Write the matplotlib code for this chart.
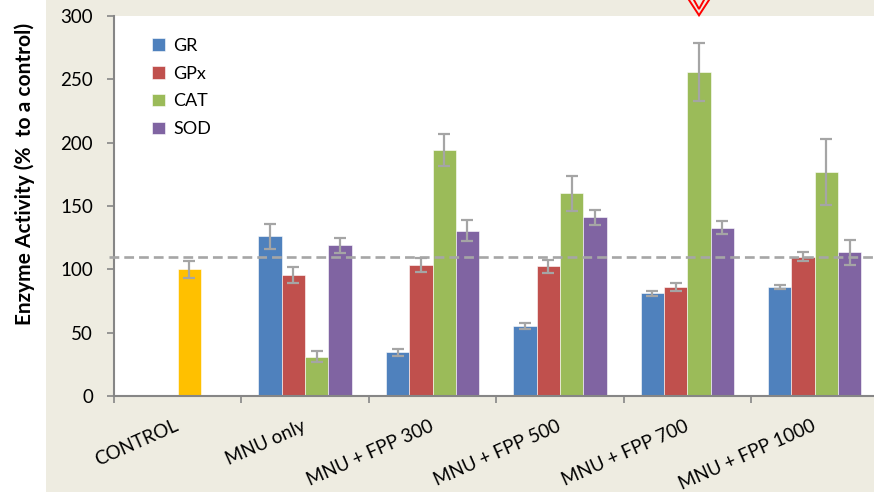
import matplotlib
matplotlib.use("Agg")
import matplotlib.pyplot as plt
import numpy as np
from matplotlib.patches import Rectangle
from matplotlib.lines import Line2D

plt.rcParams["font.family"] = ["Lato", "DejaVu Sans"]

groups = ["CONTROL", "MNU only", "MNU + FPP 300", "MNU + FPP 500",
          "MNU + FPP 700", "MNU + FPP 1000"]
enzymes = ["GR", "GPx", "CAT", "SOD"]

control_value = 100
control_err = 6.5

# treated groups (MNU only .. MNU + FPP 1000)
gr = [126, 34.5, 55.5, 81, 86]
gr_err = [10, 3, 2.5, 2, 1.5]
gpx = [95.5, 103.5, 102.5, 86, 110]
gpx_err = [6, 5.5, 5, 3, 3.5]
cat = [31, 194, 160, 256, 177]
cat_err = [4.5, 12.5, 14, 23, 26]
sod = [119, 130.5, 141, 133, 113.5]
sod_err = [6, 8.5, 6, 5.5, 10]

reference_level = 110

colors = ["#4F81BD", "#C0504D", "#9BBB59", "#8064A2"]
control_color = "#FFC000"
err_color = "#A5A5A5"
beige = "#EEECE1"

W, H = 874, 492
fig = plt.figure(figsize=(W / 100, H / 100), dpi=100, facecolor="white")
fig.patches.append(Rectangle((46 / W, 0), 1, 1, transform=fig.transFigure,
                             facecolor=beige, edgecolor="none", zorder=-5))

ax = fig.add_axes([114 / W, 1 - 396 / H, 1 - 114 / W, (396 - 16) / H])
ax.set_facecolor("white")

bw = 0.183
x = np.arange(len(groups))
err_kw = dict(ecolor=err_color, elinewidth=1.6, capsize=4, capthick=1.6)

series = [(gr, gr_err), (gpx, gpx_err), (cat, cat_err), (sod, sod_err)]
for i, ((vals, errs), name) in enumerate(zip(series, enzymes)):
    pos = x[1:] + (i - 1.5) * bw
    ax.bar(pos, vals, bw, yerr=errs, color=colors[i], label=name,
           edgecolor="white", linewidth=0.4, error_kw=err_kw, zorder=2)

# control sits in the CAT slot of its group
ax.bar(x[0] + 0.5 * bw, control_value, bw, yerr=control_err,
       color=control_color, edgecolor="white", linewidth=0.4,
       error_kw=err_kw, zorder=2)

ax.plot([-0.54, 5.5], [reference_level] * 2, color="#A6A6A6", lw=1.9,
        ls=(0, (3.7, 1.9)), zorder=3, clip_on=False)

ax.set_xlim(-0.5, 5.465)
ax.set_ylim(0, 300)
ax.set_yticks(np.arange(0, 301, 50))
ax.set_xticks(x)
ax.set_xticklabels(groups, rotation=24, ha="right", va="center",
                   rotation_mode="anchor")
ax.set_xticks(np.arange(-0.5, 5.0, 1.0), minor=True)
ax.tick_params(axis="x", which="major", length=0, pad=21, labelsize=13.5)
ax.tick_params(axis="x", which="minor", length=5, width=1.2,
               color="#868686")
ax.tick_params(axis="y", length=5, width=1.2, color="#868686", pad=10,
               labelsize=13.5)

for side in ["top", "right"]:
    ax.spines[side].set_visible(False)
for side in ["left", "bottom"]:
    ax.spines[side].set_color("#868686")
    ax.spines[side].set_linewidth(1.5)

fig.text(25 / W, 1 - 174 / H, "Enzyme Activity (%  to a control)",
         rotation=90, ha="center", va="center", fontsize=15,
         fontweight="bold")

ax.legend(loc="upper left", bbox_to_anchor=(0.041, 0.962),
          frameon=False, fontsize=13, handlelength=0.7, handleheight=0.7,
          handletextpad=0.45, labelspacing=0.66, borderaxespad=0)

# red chevron pointing down at the CAT bar of MNU + FPP 700
fig.canvas.draw()
ax_x = ax.transData.transform((x[4] + 0.5 * bw, 0))[0]
for half, depth in [(10, 15.3), (5, 9)]:
    xs = [(ax_x - half) / W, ax_x / W, (ax_x + half) / W]
    ys = [1.0, (H - depth) / H, 1.0]
    fig.add_artist(Line2D(xs, ys, transform=fig.transFigure, color="red",
                          lw=1.4, solid_joinstyle="miter", zorder=10))

fig.savefig("out.png", dpi=100, facecolor=fig.get_facecolor())
